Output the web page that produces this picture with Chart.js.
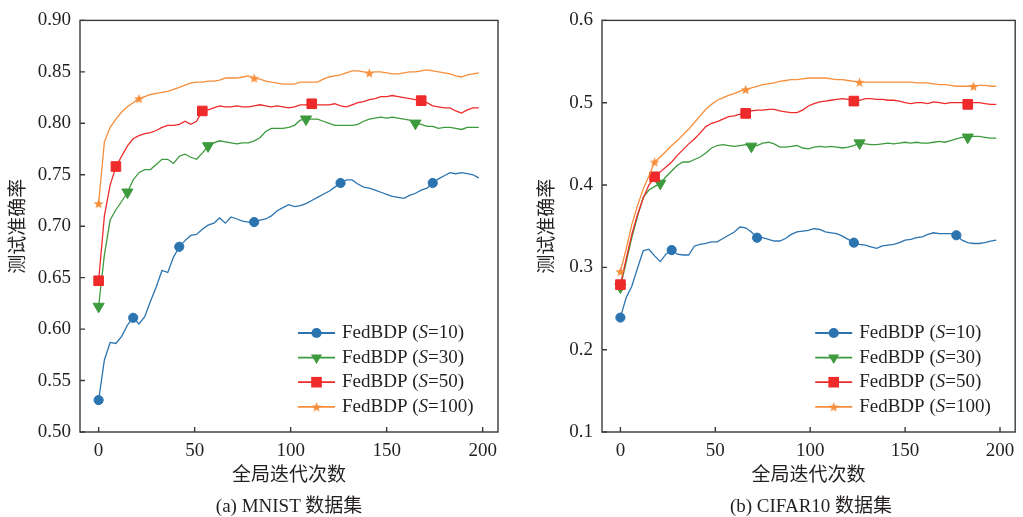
<!DOCTYPE html>
<html>
<head>
<meta charset="utf-8">
<script src="https://cdn.jsdelivr.net/npm/chart.js@4.4.1/dist/chart.umd.min.js"></script>
<style>
  body { margin: 0; background: #fff; }
  .panel { position: absolute; top: 0; height: 517px; }
  #pa { left: 0; width: 512px; }
  #pb { left: 512px; width: 511px; }
  .cap {
    position: absolute; top: 490px; line-height: 22px; text-align: center;
    font: 19px "Liberation Serif", "Noto Sans CJK SC", serif; color: #231f20;
  }
</style>
</head>
<body>
<div class="panel" id="pa"><canvas id="chartA"></canvas></div>
<div class="panel" id="pb"><canvas id="chartB"></canvas></div>
<div class="cap" style="left:80px;width:418px">(a) MNIST 数据集</div>
<div class="cap" style="left:602px;width:418px">(b) CIFAR10 数据集</div>
<script>
// global iteration (sampled every 3 rounds)
const iters = [0,3,6,9,12,15,18,21,24,27,30,33,36,39,42,45,48,51,54,57,60,63,66,69,72,75,78,81,84,87,
  90,93,96,99,102,105,108,111,114,117,120,123,126,129,132,135,138,141,144,147,150,153,156,159,162,165,168,171,174,177,
  180,183,186,189,192,195,198];
const xTicks = [0, 50, 100, 150, 200];
const mnistTicks = [0.50, 0.55, 0.60, 0.65, 0.70, 0.75, 0.80, 0.85, 0.90];
const cifarTicks = [0.1, 0.2, 0.3, 0.4, 0.5, 0.6];
const seriesNames = ["10", "30", "50", "100"];

// (a) MNIST
const mnistS10 = [0.531,0.570,0.587,0.586,0.593,0.604,0.611,0.605,0.612,0.627,
  0.641,0.657,0.655,0.670,0.680,0.686,0.691,0.692,0.697,0.701,
  0.703,0.708,0.703,0.709,0.707,0.705,0.704,0.704,0.706,0.707,
  0.710,0.715,0.718,0.721,0.719,0.720,0.722,0.725,0.728,0.731,
  0.734,0.738,0.742,0.745,0.745,0.741,0.738,0.737,0.735,0.733,
  0.731,0.729,0.728,0.727,0.730,0.732,0.735,0.737,0.742,0.746,
  0.749,0.752,0.751,0.752,0.751,0.750,0.747];
const mnistS30 = [0.622,0.672,0.706,0.716,0.724,0.733,0.745,0.752,0.755,0.755,
  0.760,0.765,0.765,0.761,0.768,0.770,0.767,0.765,0.771,0.778,
  0.781,0.783,0.782,0.781,0.780,0.781,0.781,0.783,0.786,0.792,
  0.795,0.795,0.795,0.796,0.798,0.803,0.804,0.804,0.804,0.802,
  0.800,0.798,0.798,0.798,0.798,0.799,0.802,0.804,0.805,0.806,
  0.805,0.806,0.805,0.804,0.803,0.800,0.799,0.797,0.797,0.795,
  0.796,0.796,0.795,0.794,0.796,0.796,0.796];
const mnistS50 = [0.647,0.710,0.740,0.758,0.768,0.778,0.785,0.788,0.790,0.791,
  0.793,0.796,0.798,0.798,0.799,0.802,0.799,0.802,0.812,0.813,
  0.815,0.817,0.816,0.816,0.817,0.816,0.816,0.817,0.818,0.817,
  0.816,0.817,0.816,0.815,0.816,0.818,0.818,0.819,0.818,0.818,
  0.818,0.819,0.817,0.816,0.818,0.820,0.821,0.823,0.824,0.826,
  0.826,0.827,0.826,0.825,0.824,0.823,0.822,0.820,0.817,0.816,
  0.815,0.815,0.812,0.810,0.813,0.815,0.815];
const mnistS100 = [0.722,0.782,0.796,0.804,0.811,0.816,0.820,0.824,0.826,0.828,
  0.829,0.830,0.831,0.833,0.835,0.837,0.839,0.840,0.840,0.841,
  0.841,0.842,0.844,0.844,0.844,0.845,0.846,0.844,0.843,0.841,
  0.840,0.839,0.838,0.838,0.838,0.840,0.840,0.840,0.840,0.843,
  0.845,0.846,0.847,0.849,0.851,0.851,0.850,0.849,0.850,0.850,
  0.849,0.848,0.848,0.849,0.850,0.850,0.851,0.852,0.851,0.850,
  0.849,0.848,0.846,0.845,0.847,0.848,0.849];

// (b) CIFAR10
const cifarS10 = [0.239,0.263,0.277,0.299,0.320,0.322,0.314,0.307,0.316,0.321,
  0.316,0.315,0.315,0.326,0.328,0.329,0.331,0.331,0.335,0.339,
  0.343,0.349,0.348,0.343,0.336,0.336,0.334,0.332,0.332,0.335,
  0.340,0.343,0.344,0.345,0.347,0.346,0.343,0.342,0.341,0.338,
  0.334,0.330,0.328,0.327,0.325,0.323,0.326,0.327,0.328,0.330,
  0.333,0.334,0.336,0.337,0.340,0.342,0.341,0.341,0.341,0.339,
  0.333,0.330,0.329,0.329,0.330,0.332,0.333];
const cifarS30 = [0.276,0.306,0.336,0.362,0.385,0.394,0.398,0.402,0.410,0.417,
  0.424,0.428,0.428,0.431,0.434,0.439,0.445,0.448,0.449,0.448,
  0.447,0.448,0.449,0.447,0.448,0.451,0.452,0.450,0.446,0.446,
  0.447,0.448,0.445,0.444,0.446,0.447,0.446,0.447,0.446,0.445,
  0.446,0.448,0.451,0.450,0.449,0.449,0.450,0.451,0.450,0.451,
  0.452,0.451,0.452,0.451,0.451,0.452,0.453,0.452,0.454,0.456,
  0.458,0.458,0.459,0.459,0.458,0.457,0.457];
const cifarS50 = [0.279,0.310,0.340,0.364,0.384,0.400,0.410,0.416,0.422,0.428,
  0.436,0.443,0.450,0.456,0.463,0.471,0.475,0.477,0.480,0.483,
  0.484,0.486,0.487,0.490,0.491,0.491,0.492,0.492,0.490,0.489,
  0.488,0.488,0.491,0.496,0.499,0.501,0.502,0.503,0.504,0.505,
  0.504,0.502,0.503,0.505,0.505,0.504,0.504,0.503,0.503,0.502,
  0.500,0.499,0.500,0.500,0.499,0.501,0.500,0.499,0.500,0.500,
  0.500,0.498,0.500,0.500,0.499,0.498,0.498];
const cifarS100 = [0.295,0.322,0.352,0.375,0.395,0.411,0.428,0.434,0.441,0.448,
  0.454,0.461,0.468,0.476,0.484,0.492,0.498,0.503,0.506,0.509,
  0.511,0.514,0.516,0.518,0.520,0.522,0.523,0.524,0.526,0.527,
  0.528,0.528,0.529,0.530,0.530,0.530,0.530,0.529,0.528,0.528,
  0.527,0.526,0.525,0.525,0.525,0.525,0.525,0.525,0.525,0.525,
  0.525,0.525,0.524,0.524,0.524,0.523,0.522,0.522,0.521,0.520,
  0.520,0.520,0.520,0.521,0.521,0.520,0.520];

// iterations where a marker is drawn
const mnistMarks = [[0,18,42,81,126,174], [0,15,57,108,165], [0,9,54,111,168], [0,21,81,141]];
const cifarMarks = [[0,27,72,123,177], [0,21,69,126,183], [0,18,66,123,183], [0,18,66,126,186]];

const colors = ["#2b74b0", "#3d9a3d", "#ee2a2a", "#f68e3b"];
const textColor = "#231f20";
const textFont = '"Liberation Serif", "Noto Sans CJK SC", serif';

function starImage(r, color) {
  const c = document.createElement("canvas");
  const s = Math.ceil(r * 2 + 2);
  c.width = s;
  c.height = s;
  const g = c.getContext("2d");
  g.fillStyle = color;
  g.beginPath();
  for (let i = 0; i < 10; i++) {
    const rr = i % 2 === 0 ? r : r * 0.42;
    const a = -Math.PI / 2 + (i * Math.PI) / 5;
    const px = s / 2 + rr * Math.cos(a);
    const py = s / 2 + rr * Math.sin(a) + 0.5;
    if (i === 0) g.moveTo(px, py);
    else g.lineTo(px, py);
  }
  g.closePath();
  g.fill();
  return c;
}

const star = starImage(5.2, colors[3]);
const markers = [
  { style: "circle", radius: 4.6, rotation: 0 },
  { style: "triangle", radius: 6.4, rotation: 180 },
  { style: "rect", radius: 6.8, rotation: 0 },
  { style: star, radius: 5, rotation: 0 },
];

function drawMarker(ctx, i, x, y) {
  const m = markers[i];
  ctx.save();
  ctx.fillStyle = colors[i];
  ctx.beginPath();
  if (m.style === "circle") {
    ctx.arc(x, y, m.radius + 0.5, 0, Math.PI * 2);
  } else if (m.style === "triangle") {
    const r = m.radius;
    ctx.moveTo(x, y + r);
    ctx.lineTo(x - r * 0.866, y - r / 2);
    ctx.lineTo(x + r * 0.866, y - r / 2);
    ctx.closePath();
  } else if (m.style === "rect") {
    const h = m.radius * Math.SQRT1_2 + 0.5;
    ctx.rect(x - h, y - h, 2 * h, 2 * h);
  } else {
    ctx.drawImage(m.style, x - m.style.width / 2, y - m.style.height / 2);
  }
  ctx.fill();
  ctx.restore();
}

// box + inward tick marks
const framePlugin = {
  id: "frame",
  afterDatasetsDraw(chart) {
    const { ctx, chartArea: a, scales } = chart;
    ctx.save();
    ctx.strokeStyle = "#3a3a3a";
    ctx.lineWidth = 1.4;
    ctx.strokeRect(a.left, a.top, a.right - a.left, a.bottom - a.top);
    ctx.beginPath();
    scales.x.ticks.forEach((t) => {
      const p = scales.x.getPixelForValue(t.value);
      ctx.moveTo(p, a.bottom);
      ctx.lineTo(p, a.bottom - 5);
    });
    scales.y.ticks.forEach((t) => {
      const p = scales.y.getPixelForValue(t.value);
      ctx.moveTo(a.left, p);
      ctx.lineTo(a.left + 5, p);
    });
    ctx.stroke();
    ctx.restore();
  },
};

// legend in the lower right corner of the plot
const legendPlugin = {
  id: "innerLegend",
  afterDraw(chart) {
    const { ctx, chartArea: a } = chart;
    seriesNames.forEach((name, i) => {
      const y = a.bottom - 99 + i * 24.6;
      const x0 = a.right - 200;
      const x1 = a.right - 163;
      ctx.save();
      ctx.strokeStyle = colors[i];
      ctx.lineWidth = 1.8;
      ctx.beginPath();
      ctx.moveTo(x0, y);
      ctx.lineTo(x1, y);
      ctx.stroke();
      ctx.restore();
      drawMarker(ctx, i, (x0 + x1) / 2, y);

      ctx.save();
      ctx.fillStyle = textColor;
      ctx.textBaseline = "middle";
      ctx.textAlign = "left";
      let tx = a.right - 156;
      const parts = [["FedBDP (", false], ["S", true], ["=" + name + ")", false]];
      parts.forEach(([s, italic]) => {
        ctx.font = (italic ? "italic " : "") + "19px " + textFont;
        ctx.fillText(s, tx, y);
        tx += ctx.measureText(s).width;
      });
      ctx.restore();
    });
  },
};

function makeDatasets(valueLists, markLists) {
  return valueLists.map((vals, i) => ({
    label: "FedBDP (S=" + seriesNames[i] + ")",
    data: iters.map((x, j) => ({ x: x, y: vals[j] })),
    borderColor: colors[i],
    backgroundColor: colors[i],
    borderWidth: 1.3,
    pointStyle: markers[i].style,
    rotation: markers[i].rotation,
    pointRadius: (ctx) => (markLists[i].includes(iters[ctx.dataIndex]) ? markers[i].radius : 0),
    pointHoverRadius: 0,
    pointBorderWidth: 1,
    pointBorderColor: colors[i],
    pointBackgroundColor: colors[i],
    order: 4 - i,
    tension: 0,
  }));
}

function makeChart(id, valueLists, markLists, yMin, yMax, yTicks, yDigits, yAxisWidth, yTitlePad, rightPad) {
  const ctx = document.getElementById(id).getContext("2d");
  return new Chart(ctx, {
    type: "line",
    data: { datasets: makeDatasets(valueLists, markLists) },
    options: {
      responsive: true,
      maintainAspectRatio: false,
      animation: false,
      devicePixelRatio: 1,
      layout: { padding: { top: 16, right: rightPad, bottom: 30, left: 0 } },
      plugins: { legend: { display: false }, tooltip: { enabled: false } },
      scales: {
        x: {
          type: "linear",
          min: -9.7,
          max: 208,
          afterBuildTicks: (s) => {
            s.ticks = xTicks.map((v) => ({ value: v }));
          },
          afterFit: (s) => {
            s.height = 55;
          },
          grid: { display: false, drawTicks: false },
          border: { display: false },
          ticks: {
            padding: 8,
            color: textColor,
            font: { family: textFont, size: 19 },
            maxRotation: 0,
            autoSkip: false,
          },
          title: {
            display: true,
            text: "全局迭代次数",
            color: textColor,
            font: { family: textFont, size: 19 },
            padding: { top: 0, bottom: 0 },
          },
        },
        y: {
          min: yMin,
          max: yMax,
          afterBuildTicks: (s) => {
            s.ticks = yTicks.map((v) => ({ value: v }));
          },
          afterFit: (s) => {
            s.width = yAxisWidth;
          },
          grid: { display: false, drawTicks: false },
          border: { display: false },
          ticks: {
            padding: 9,
            color: textColor,
            font: { family: textFont, size: 19 },
            callback: (v) => Number(v).toFixed(yDigits),
          },
          title: {
            display: true,
            text: "测试准确率",
            color: textColor,
            font: { family: textFont, size: 19 },
            padding: { top: yTitlePad, bottom: 0 },
          },
        },
      },
    },
    plugins: [framePlugin, legendPlugin],
  });
}

makeChart("chartA", [mnistS10, mnistS30, mnistS50, mnistS100], mnistMarks, 0.5, 0.9, mnistTicks, 2, 80, 8, 14);
makeChart("chartB", [cifarS10, cifarS30, cifarS50, cifarS100], cifarMarks, 0.1, 0.6, cifarTicks, 1, 90, 25, 3);
</script>
</body>
</html>
